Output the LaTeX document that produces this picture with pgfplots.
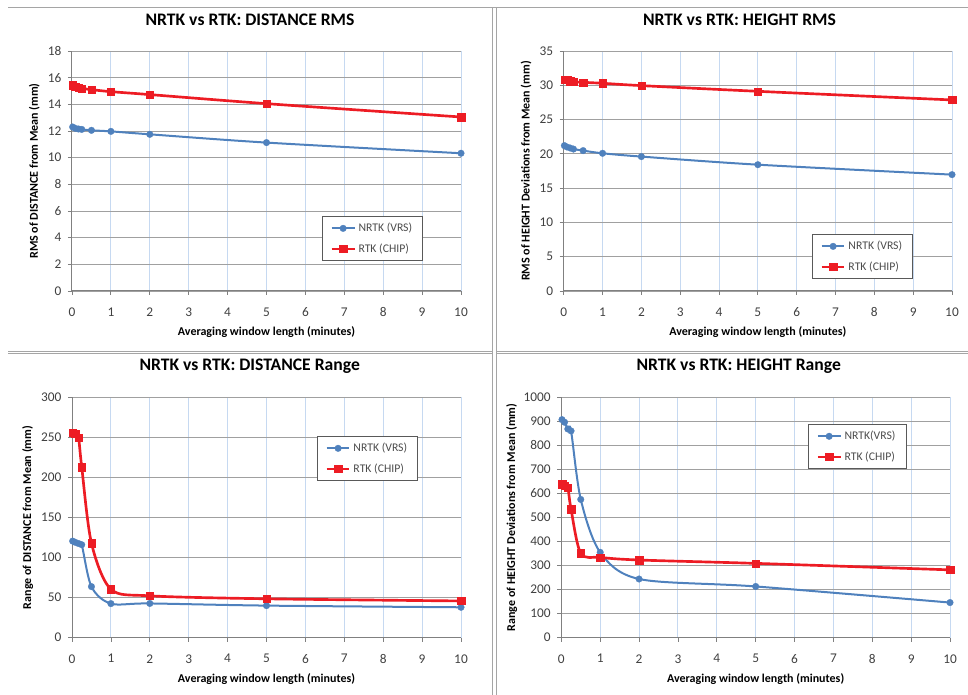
\documentclass[border=0pt]{standalone}
\usepackage{fontspec}
\setmainfont{Carlito}
\usepackage{pgfplots}
\pgfplotsset{compat=1.18}
\definecolor{nblue}{RGB}{79,129,189}
\definecolor{rred}{RGB}{237,28,36}
\definecolor{hgrid}{RGB}{160,160,160}
\definecolor{vgrid}{RGB}{198,217,241}
\definecolor{framec}{RGB}{165,165,165}
\pgfplotsset{
 mystyle/.style={
  scale only axis, enlargelimits=false,
  xmin=0, xmax=10, xtick={0,...,10}, ymin=0,
  axis lines=left, axis line style={-, draw=gray, line width=0.75pt},
  tick align=outside, major tick length=3pt, tick style={gray, line width=0.6pt},
  xmajorgrids, ymajorgrids,
  x grid style={vgrid, line width=0.75pt},
  y grid style={hgrid, line width=0.6pt},
  ticklabel style={font=\fontsize{10}{11}\selectfont, text=black!75},
  xticklabel style={yshift=-6pt},
  yticklabel style={xshift=-1.5pt},
  /pgf/number format/assume math mode=true,
  /pgf/number format/1000 sep={},
  title style={font=\fontsize{13.2}{15}\selectfont\bfseries, anchor=base},
  xlabel style={font=\fontsize{9}{10}\selectfont\bfseries, at={(axis description cs:0.5,-0.1875)}, anchor=base},
  ylabel style={font=\fontsize{9}{10}\selectfont\bfseries, anchor=center},
  legend cell align=left,
  legend style={anchor=north west, draw=black!65, line width=0.6pt, fill=white,
    inner xsep=6pt, inner ysep=3pt, row sep=3.5pt,
    font=\fontsize{8.8}{10}\selectfont, text=black!70},
  xlabel={Averaging window length (minutes)},
 },
 nrtk/.style={nblue, line width=1.5pt, smooth, mark=*, mark size=2.5pt, mark options={solid, line width=0.2pt, fill=nblue, draw=nblue}},
 rtk/.style={rred, line width=2pt, smooth, mark=square*, mark size=2.75pt, mark options={solid, line width=0.2pt, fill=rred, draw=rred}},
}
\begin{document}
\begin{tikzpicture}
\useasboundingbox (0,0) rectangle (726pt,521.25pt);
% top-left
\begin{axis}[mystyle, at={(54pt,303pt)}, anchor=south west, width=291.75pt, height=180pt,
  ymax=18, ytick={0,2,...,18},
  title={NRTK vs RTK: DISTANCE RMS}, title style={at={(axis description cs:0.4576,1.074)}},
  ylabel={RMS of DISTANCE from Mean (mm)}, ylabel style={at={(axis description cs:-0.0969,0.5)}},
  legend style={at={(axis description cs:0.6427,0.3125)}}]
\addplot[nrtk] coordinates {(0.0167,12.3)(0.0833,12.2)(0.1667,12.15)(0.25,12.12)(0.5,12.05)(1,11.97)(2,11.75)(5,11.13)(10,10.33)};
\addplot[rtk] coordinates {(0.0167,15.43)(0.0833,15.35)(0.1667,15.25)(0.25,15.2)(0.5,15.1)(1,14.95)(2,14.73)(5,14.05)(10,13.05)};
\legend{NRTK (VRS),RTK (CHIP)}
\end{axis}
% top-right
\begin{axis}[mystyle, at={(422.8pt,303pt)}, anchor=south west, width=291.2pt, height=180pt,
  ymax=35, ytick={0,5,...,35},
  title={NRTK vs RTK: HEIGHT RMS}, title style={at={(axis description cs:0.4527,1.074)}},
  ylabel={RMS of HEIGHT Deviations from Mean (mm)}, ylabel style={at={(axis description cs:-0.0971,0.5)}},
  legend style={at={(axis description cs:0.6394,0.2375)}}]
\addplot[nrtk] coordinates {(0.0167,21.2)(0.0833,21.0)(0.1667,20.85)(0.25,20.7)(0.5,20.47)(1,20.08)(2,19.6)(5,18.42)(10,16.97)};
\addplot[rtk] coordinates {(0.0167,30.87)(0.0833,30.8)(0.1667,30.6)(0.25,30.5)(0.5,30.43)(1,30.29)(2,29.95)(5,29.12)(10,27.86)};
\legend{NRTK (VRS),RTK (CHIP)}
\end{axis}
% bottom-left
\begin{axis}[mystyle, at={(54pt,43pt)}, anchor=south west, width=291.75pt, height=180.3pt,
  ymax=300, ytick={0,50,...,300},
  title={NRTK vs RTK: DISTANCE Range}, title style={at={(axis description cs:0.4568,1.076)}},
  ylabel={Range of DISTANCE from Mean (mm)}, ylabel style={at={(axis description cs:-0.1139,0.5)}},
  legend style={at={(axis description cs:0.6298,0.839)}}]
\addplot[nrtk] coordinates {(0.0167,120.5)(0.0833,119)(0.1667,117.5)(0.25,116)(0.5,63.7)(1,42.5)(2,42.7)(5,40)(10,37.9)};
\addplot[rtk] coordinates {(0.0167,256)(0.0833,255)(0.1667,250)(0.25,213)(0.5,118)(1,60.5)(2,52.2)(5,48.5)(10,45.8)};
\legend{NRTK (VRS),RTK (CHIP)}
\end{axis}
% bottom-right
\begin{axis}[mystyle, at={(421pt,43pt)}, anchor=south west, width=291.5pt, height=180.3pt,
  ymax=1000, ytick={0,100,...,1000},
  title={NRTK vs RTK: HEIGHT Range}, title style={at={(axis description cs:0.4564,1.076)}},
  ylabel={Range of HEIGHT Deviations from Mean (mm)}, ylabel style={at={(axis description cs:-0.1276,0.5)}},
  legend style={at={(axis description cs:0.6347,0.889)}}]
\addplot[nrtk] coordinates {(0.0167,907)(0.0833,896)(0.1667,868)(0.25,860)(0.5,575)(1,355)(2,244)(5,213)(10,146)};
\addplot[rtk] coordinates {(0.0167,639)(0.0833,633)(0.1667,625)(0.25,534)(0.5,351)(1,334)(2,323)(5,309)(10,282)};
\legend{NRTK(VRS),RTK (CHIP)}
\end{axis}
% panel frames
\draw[framec, line width=0.75pt] (6pt,515.8pt) -- (726pt,515.8pt);
\draw[framec, line width=0.75pt] (369.2pt,515.8pt) -- (369.2pt,0pt);
\draw[framec, line width=0.75pt] (372.5pt,515.8pt) -- (372.5pt,0pt);
\draw[framec, line width=0.75pt] (6pt,257.6pt) -- (369.2pt,257.6pt);
\draw[framec, line width=0.75pt] (6pt,255.75pt) -- (369.2pt,255.75pt);
\draw[framec, line width=0.75pt] (372.5pt,257.6pt) -- (726pt,257.6pt);
\draw[framec, line width=0.75pt] (372.5pt,255.75pt) -- (726pt,255.75pt);
\end{tikzpicture}
\end{document}
